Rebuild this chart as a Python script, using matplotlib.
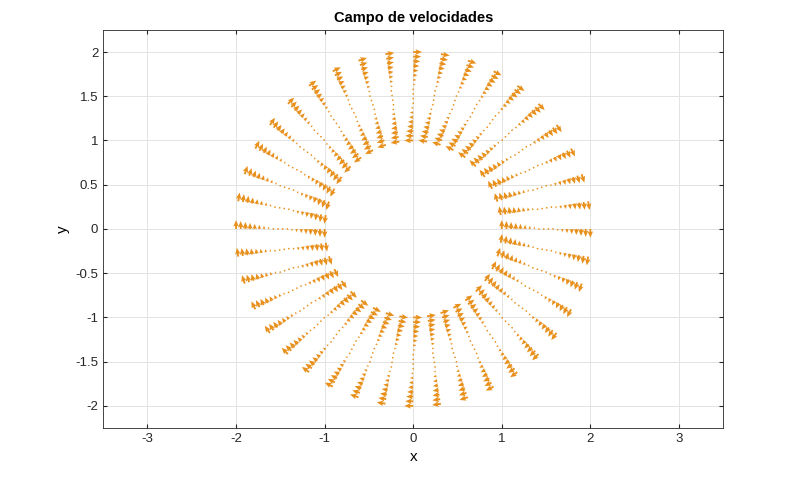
import numpy as np
import matplotlib.pyplot as plt

plt.rcParams["font.family"] = ["Liberation Sans", "DejaVu Sans"]
plt.rcParams["axes.unicode_minus"] = False

# annulus grid: 40 spokes, 20 radial samples between r=1 and r=2
n_theta = 40
n_r = 20
r_vals = np.linspace(1, 2, n_r)
theta_vals = np.linspace(0, 2 * np.pi, n_theta, endpoint=False) + np.pi / 2

R, T = np.meshgrid(r_vals, theta_vals)
X = R * np.cos(T)
Y = R * np.sin(T)
vt = R - 1.5                      # tangential speed, changes sign mid-gap
U = vt * np.sin(T)
V = -vt * np.cos(T)

fig = plt.figure(figsize=(8, 4.82), dpi=100)
ax = fig.add_axes([0.129, 0.112, 0.775, 0.826])
ax.quiver(X, Y, U, V, color="#E8901C", angles="xy", scale_units="xy",
          scale=5.0, width=0.003, headwidth=3, headlength=3.5, headaxislength=3)

ax.set_xlim(-3.5, 3.5)
ax.set_ylim(-2.25, 2.25)
ax.set_xticks(range(-3, 4))
ax.set_yticks(np.arange(-2, 2.01, 0.5))
ax.set_yticklabels(["-2", "-1.5", "-1", "-0.5", "0", "0.5", "1", "1.5", "2"])
ax.grid(True, color="#e3e3e3", lw=0.7)
ax.set_axisbelow(True)
for s in ax.spines.values():
    s.set_color("#262626")
    s.set_linewidth(0.6)
ax.tick_params(labelsize=9.5, colors="#262626", length=3, direction="in",
               top=True, right=True)
ax.set_xlabel("x", fontsize=11)
ax.set_ylabel("y", fontsize=11)
ax.set_title("Campo de velocidades", fontsize=10.5, fontweight="bold")

fig.savefig("out.png", dpi=100)
